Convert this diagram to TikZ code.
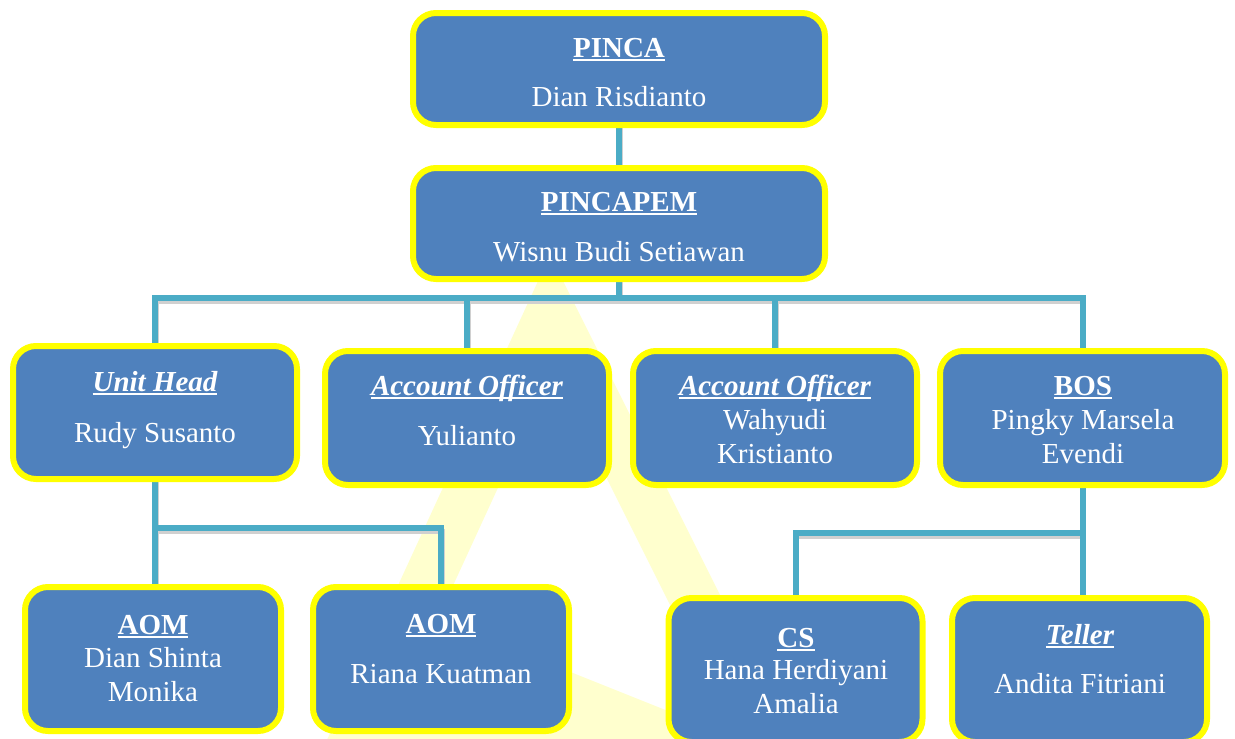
\documentclass[tikz,border=0pt]{standalone}
\usepackage{fontspec}
\setmainfont{Liberation Serif}

\definecolor{boxblue}{RGB}{79,129,189}
\definecolor{linkteal}{RGB}{75,172,198}
\definecolor{rim}{RGB}{255,255,0}
\definecolor{markyellow}{RGB}{255,255,206}
\definecolor{linkshade}{RGB}{208,208,208}

% underlined heading with a thick rule under the word
\newcommand{\ulhead}[1]{\setbox0\hbox{#1}\rlap{\rule[-4pt]{\wd0}{2pt}}\box0}

\pgfdeclarelayer{watermark}
\pgfdeclarelayer{links}
\pgfsetlayers{watermark,links,main}

\tikzset{
  orgbox/.style={draw=rim, line width=6pt, fill=boxblue, rounded corners=23pt,
    inner sep=0pt, outer sep=0pt},
  conn/.style={draw=linkteal, line width=6pt},
  connshade/.style={draw=linkshade, line width=5pt, transform canvas={shift={(1,3)}}},
  title/.style={anchor=base, text=white, inner sep=0pt,
    font=\fontsize{29}{34}\selectfont\bfseries},
  ititle/.style={title, font=\fontsize{29}{34}\selectfont\bfseries\itshape},
  person/.style={anchor=base, text=white, inner sep=0pt,
    font=\fontsize{29}{34}\selectfont},
}

\begin{document}
\begin{tikzpicture}[x=1pt,y=-1pt]
\useasboundingbox (0,0) rectangle (1235,739);

% boxes
\node[orgbox, minimum width=412, minimum height=112] (pinca)    at (619,69) {};
\node[orgbox, minimum width=412, minimum height=111] (pincapem) at (619,223.5) {};
\node[orgbox, minimum width=284, minimum height=133] (unithead) at (155,412.5) {};
\node[orgbox, minimum width=284, minimum height=134] (ao1)      at (467,418) {};
\node[orgbox, minimum width=284, minimum height=134] (ao2)      at (775,418) {};
\node[orgbox, minimum width=285, minimum height=134] (bos)      at (1082.5,418) {};
\node[orgbox, minimum width=256, minimum height=144] (aom1)     at (153,659) {};
\node[orgbox, minimum width=256, minimum height=144] (aom2)     at (441,659) {};
\node[orgbox, minimum width=254, minimum height=144] (cs)       at (795.5,670) {};
\node[orgbox, minimum width=255, minimum height=144] (teller)   at (1079.5,670) {};

% texts
\node[title]  (pincaT)    at (619,57)  {\ulhead{PINCA}};
\node[person] (pincaN)    at (619,106) {Dian Risdianto};
\node[title]  (pincapemT) at (619,211) {\ulhead{PINCAPEM}};
\node[person] (pincapemN) at (619,261) {Wisnu Budi Setiawan};

\node[ititle] (unitheadT) at (155,391) {\ulhead{Unit Head}};
\node[person] (unitheadN) at (155,442) {Rudy Susanto};
\node[ititle] (aoaT)      at (467,395) {\ulhead{Account Officer}};
\node[person] (aoaN)      at (467,445) {Yulianto};
\node[ititle] (aobT)      at (775,395) {\ulhead{Account Officer}};
\node[person] (aobNa)     at (775,429) {Wahyudi};
\node[person] (aobNb)     at (775,463) {Kristianto};
\node[title]  (bosT)      at (1083,395) {\ulhead{BOS}};
\node[person] (bosNa)     at (1083,429) {Pingky Marsela};
\node[person] (bosNb)     at (1083,463) {Evendi};

\node[title]  (aomaT)     at (153,634) {\ulhead{AOM}};
\node[person] (aomaNa)    at (153,667) {Dian Shinta};
\node[person] (aomaNb)    at (153,701) {Monika};
\node[title]  (aombT)     at (441,633) {\ulhead{AOM}};
\node[person] (aombN)     at (441,683) {Riana Kuatman};
\node[title]  (csT)       at (796,647) {\ulhead{CS}};
\node[person] (csNa)      at (796,679) {Hana Herdiyani};
\node[person] (csNb)      at (796,713) {Amalia};
\node[ititle] (tellerT)   at (1080,644) {\ulhead{Teller}};
\node[person] (tellerN)   at (1080,693) {Andita Fitriani};

% faint logo behind the chart
\begin{pgfonlayer}{watermark}
  \fill[markyellow, even odd rule]
    (550,255) -- (223.4,965) -- (905,965) -- cycle
    (552.3,369.6) -- (437.7,618.9) -- (736.75,738.5) -- cycle;
\end{pgfonlayer}

% connectors
\begin{pgfonlayer}{links}
  \foreach \sty in {connshade,conn} {
    \draw[\sty] (pinca.south) -- (pincapem.north);
    \foreach \kid in {unithead,ao1,ao2,bos}
      \draw[\sty] (pincapem.south) -- ++(0,19) -| (\kid.north);
    \draw[\sty] (unithead.south) -- (unithead.south |- aom1.north);
    \draw[\sty] (unithead.south) -- ++(0,49) -| (aom2.north);
    \draw[\sty] (bos.south) -- (bos.south |- teller.north);
    \draw[\sty] (bos.south) -- ++(0,48) -| (cs.north);
  }
\end{pgfonlayer}
\end{tikzpicture}
\end{document}
